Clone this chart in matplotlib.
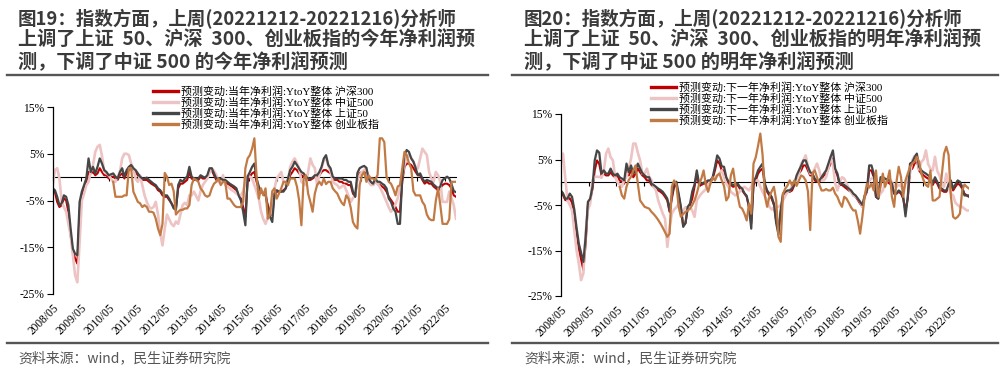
import numpy as np
import matplotlib
matplotlib.use('Agg')
import matplotlib.pyplot as plt
from matplotlib.lines import Line2D

plt.rcParams['font.family'] = ['Liberation Serif', 'Noto Sans CJK SC']
plt.rcParams['axes.unicode_minus'] = False

nan = np.nan

# ---- left chart: current-year net profit forecast change (%) ----
hs300_cur = [
    -2.8, -3.2, -5.3, -6.4, -6.0, -4.5, -5.0, -7.4, -12.4, -16.0, -17.4, -18.5,
    -7.4, -3.9, -2.4, -1.0, 1.1, 0.8, 1.1, 0.4, 0.8, 1.9, 1.1, 0.4,
    0.4, -0.3, 0.1, 0.1, -0.3, -0.6, 0.4, 0.8, -0.3, 0.8, 1.5, 1.9,
    1.5, 1.1, 0.4, -0.3, -0.6, -0.6, -0.6, -1.0, -1.4, -1.7, -2.0, -2.8,
    -3.1, -3.9, -4.2, -4.2, -4.9, -5.6, -6.4, -6.7, -2.4, -1.4, -1.4, -1.0,
    -0.6, 1.1, -0.3, -0.6, -0.6, -0.6, 0.1, -0.3, -0.3, 0.1, 1.5, 1.5,
    0.4, -0.6, -0.6, -0.6, -1.0, -1.0, -1.4, -1.7, -2.0, -2.4, -2.8, -3.9,
    -4.6, -6.4, -8.5, -1.0, 0.1, 0.8, 1.1, -1.0, -2.4, -3.1, -3.5, -3.9,
    -6.0, -7.4, -8.1, -3.9, -3.1, -3.1, -3.1, -2.8, -2.4, -1.0, 0.4, 1.1,
    1.9, 1.5, 0.8, 0.4, 0.1, -0.3, -0.6, -0.6, -0.3, 0.1, 0.1, 0.4,
    1.1, 1.5, 1.5, 1.1, 0.8, -0.3, -0.6, -0.6, -1.0, -1.0, -1.4, -1.4,
    -1.7, -1.7, -3.5, -4.2, -0.3, 0.8, 1.1, 1.1, 0.8, -1.0, -1.4, -1.7,
    -1.0, -1.4, -1.7, -2.0, -2.4, -3.1, -4.2, -4.9, -5.6, -6.4, -7.4, -7.4,
    -1.0, 2.2, 2.9, 2.9, 2.6, 1.9, 1.1, 0.4, 0.4, -0.6, -1.4, -1.0,
    -1.4, -1.4, -2.0, -2.4, -2.8, -2.4, -1.7, -1.4, -1.4, -1.7, -2.4, -3.9,
    -4.2]
zz500_cur = [
    -1.7, 1.5, 1.9, -0.3, -5.3, -6.4, -7.4, -10.0, -12.4, -16.7, -21.0, -22.5,
    -14.0, -5.0, -3.5, -1.7, -1.0, 1.1, 2.6, 5.4, 6.5, 6.9, 4.5, 1.1,
    0.8, 0.4, -0.3, -1.0, -1.0, 0.1, 1.1, 4.0, 5.0, 5.0, 4.7, 2.9,
    1.9, -0.3, -1.0, 0.4, -1.7, -3.9, -5.3, -6.4, -6.7, -6.4, -5.3, -8.0,
    -12.0, -14.6, -11.0, -8.0, -9.0, -10.0, -10.5, -9.5, -10.0, -8.0, -6.0, -5.5,
    -6.0, -3.9, -3.9, -3.1, -4.0, -5.0, -3.0, -1.7, -1.0, -0.3, 1.0, 1.9,
    1.3, 0.5, -1.0, -1.4, 0.4, -1.7, -2.0, -2.4, -2.8, -3.1, -3.5, -3.9,
    -3.9, -3.0, -1.0, 0.4, 0.1, -0.3, -1.7, -3.1, -4.6, -7.4, -9.0, -10.0,
    -8.6, -8.0, -7.4, -2.4, -0.3, 0.4, 1.1, -1.0, -1.7, -1.0, 2.2, 3.3,
    4.0, 3.0, 1.9, -1.0, -1.4, -1.7, 1.1, 4.0, 2.6, 1.9, -1.7, 0.4,
    2.0, 3.6, 4.0, 2.5, 1.1, -1.0, -1.4, -1.7, -2.4, -2.0, -1.7, -2.8,
    -4.0, -5.3, -4.5, -3.9, -0.3, 0.4, 1.1, 1.5, 1.9, -1.0, -1.7, -1.7,
    -1.0, -1.4, -2.1, -3.1, -4.2, -5.3, -6.5, -7.4, -6.7, -5.8, -4.5, -2.4,
    0.4, 2.6, 4.0, 5.0, 4.2, 3.3, 2.2, 1.9, 4.0, 6.1, 5.4, 4.7,
    1.1, -0.3, -1.0, 1.1, 0.4, -1.0, -5.3, -5.3, -5.3, -3.1, -4.5, -6.0,
    -8.9]
sz50_cur = [
    -2.4, -2.8, -4.2, -6.0, -5.6, -3.9, -4.2, -6.0, -11.0, -15.3, -16.4, -16.7,
    -5.3, -3.1, -1.7, -0.3, 4.0, 1.1, 2.2, 0.8, 2.2, 4.0, 2.9, 1.5,
    1.1, 0.4, 0.6, 0.8, 0.1, -0.3, 1.1, 1.9, 0.1, 1.5, 2.2, 2.6,
    1.9, 1.5, 0.8, 0.1, -0.3, -0.3, -0.1, -0.6, -1.0, -1.4, -1.7, -2.4,
    -2.8, -3.5, -3.9, -3.9, -4.6, -5.6, -6.7, -7.0, -1.7, -0.6, -1.0, -0.3,
    0.1, 2.2, 0.1, -0.3, -0.3, -0.3, 0.4, 0.1, -0.1, 0.4, 1.9, 1.9,
    0.8, -0.3, -0.3, -0.3, -0.6, -0.6, -1.0, -1.4, -1.7, -2.0, -2.4, -3.9,
    -5.0, -7.4, -10.3, 0.1, 1.1, 2.2, 2.9, -0.3, -2.0, -3.1, -3.5, -3.5,
    -6.7, -8.5, -9.6, -3.5, -2.8, -3.1, -3.1, -3.1, -2.4, -0.3, 1.5, 2.2,
    3.3, 2.6, 1.8, 1.1, 0.8, 0.1, -0.3, -0.3, -0.1, 0.4, 0.4, 1.1,
    2.2, 4.0, 4.7, 2.6, 1.9, 0.1, -0.3, -0.3, -0.3, -0.3, -0.6, -0.6,
    -1.0, -1.0, -3.1, -4.2, 0.9, 1.9, 2.2, 2.4, 2.0, -0.3, -1.0, -1.4,
    -0.3, -1.0, -1.0, -1.4, -1.7, -2.4, -4.6, -5.3, -6.7, -7.4, -10.0, -10.0,
    -0.3, 4.7, 5.8, 5.4, 4.0, 3.3, 1.9, 0.4, 0.8, -0.3, -1.0, -0.6,
    -0.8, -1.0, -1.6, -2.0, -2.4, -2.0, -0.6, -0.3, 0.1, -0.3, -1.5, -3.0,
    -3.2]
cyb_cur = [nan] * 27 + [
    -1.0, -4.2, -4.2, -4.2, -4.2, -3.9, -3.9, 1.9, 1.9,
    -3.1, -4.2, -5.3, -5.6, -6.4, -6.0, -6.4, -7.4, -7.4, -7.6, -8.9, -11.0,
    -12.4, -10.0, 0.9, 0.1, -1.7, -1.4, -3.0, -8.0, -7.4, -7.0, -7.0, -6.7,
    -6.7, -6.0, -1.7, -0.3, -0.6, -1.0, -2.4, -3.0, -3.9, -4.2, -3.9, -2.4,
    -1.4, -1.0, -0.3, -1.7, -1.0, -1.0, -4.6, -4.6, -5.3, -6.0, -6.4, -6.4,
    -6.4, -5.3, 1.9, 4.0, 4.7, 6.1, 8.3, 0.1, -4.6, -2.4, -3.9, -2.4,
    -8.9, -8.0, -3.0, -2.4, -4.6, -3.5, -2.4, -1.0, -1.0, -1.7, -0.3, -0.3,
    -0.3, -2.0, -5.0, -10.3, -0.3, 0.4, -3.5, -5.3, -7.4, -3.5, -1.7, -1.0,
    -1.7, -0.3, -1.5, -1.0, -1.0, -2.4, -3.0, -3.5, -4.6, -5.5, -6.0, -3.9,
    -4.6, -6.5, -9.6, -10.5, -11.0, -1.7, 0.4, 1.1, -1.0, 0.4, -0.3, -0.3,
    -0.6, 0.5, 8.3, 8.3, 7.5, 0.1, -1.0, -1.4, -2.5, -3.9, -2.0, -1.7,
    1.9, 5.4, 4.7, 3.0, 1.9, -3.0, -3.9, -3.9, -3.9, -5.3, -6.0, -8.0,
    -8.9, -9.2, -9.2, -5.0, -2.4, -6.0, -10.0, -10.0, -10.0, -9.0, -1.0, -1.0,
    -1.0]

# ---- right chart: next-year net profit forecast change (%) ----
hs300_next = [
    -2.0, -2.8, -3.9, -4.0, -3.5, -4.5, -7.0, -11.0, -14.5, -17.0, -19.3, -13.5,
    -5.0, -4.0, -1.5, 2.6, 4.8, 4.0, 1.5, 1.9, 1.5, 1.5, 2.2, 1.5,
    1.1, 1.5, 0.4, 0.1, -0.3, 3.0, 1.5, 2.6, 1.1, 1.9, 3.0, 2.2,
    1.5, 1.1, 0.4, 0.4, -0.6, -1.0, -1.4, -1.8, -2.1, -2.5, -3.2, -4.0,
    -6.5, -3.6, -1.0, -0.6, -2.9, -5.8, -9.5, -9.0, -5.8, -5.0, -3.6, -1.0,
    1.9, -0.6, -0.6, -0.3, -0.3, 0.1, 0.1, 0.8, 2.6, 4.8, 4.1, 2.6,
    2.6, 0.4, -0.3, -0.6, -1.0, -0.8, -0.6, -1.4, -1.8, -2.5, -3.2, -5.4,
    -9.0, -0.6, 0.4, 1.9, 2.6, 3.0, -0.6, -2.1, -2.9, -3.6, -5.0, -8.5,
    -10.5, -6.5, -2.9, -2.5, -2.1, -2.1, -1.8, -0.6, 1.1, 1.9, 2.6, 3.7,
    3.7, 2.6, 1.5, 1.5, 0.4, 0.1, 0.1, 0.8, 1.5, 1.9, 3.0, 4.1,
    5.2, 2.6, 1.5, -0.6, -0.6, -1.0, -1.4, -1.8, -2.1, -2.9, -3.2, -3.9,
    -4.7, -5.4, -3.2, -2.1, 2.6, 2.6, 1.1, -3.2, -3.6, 0.4, 0.4, 0.1,
    0.1, -0.3, -0.6, -2.5, -2.5, -2.1, -2.5, -3.6, -6.2, -3.6, 2.6, 3.0,
    4.1, 4.8, 2.6, 1.9, 1.5, 1.1, 0.8, 0.4, -0.6, 0.4, -0.3, -1.4,
    -1.8, -2.1, -2.1, -1.0, -0.3, -1.8, -1.0, -0.3, -0.6, -1.4, -2.5, -2.9,
    -2.9]
zz500_next = [
    4.1, 6.3, 1.0, -4.0, -5.0, -6.2, -10.5, -15.0, -17.9, -21.5, -20.0, -11.0,
    -6.0, -4.7, 0.4, 1.2, 1.2, 1.2, 1.0, 2.5, 6.3, 7.4, 5.5, 4.8,
    1.2, 0.0, -0.5, -1.0, 0.5, 1.2, 3.0, 5.2, 8.5, 8.5, 6.5, 4.8,
    1.9, 1.9, 3.0, 1.2, 0.5, -1.0, -1.8, -4.0, -5.5, -6.9, -8.0, -14.2,
    -10.0, -6.9, -6.0, -5.5, -4.7, -6.9, -6.2, -5.5, -5.5, -5.5, -6.2, -7.6,
    -4.0, -3.2, -2.5, -2.0, -1.5, -0.5, 0.4, 1.1, 1.1, 1.5, 1.9, 2.6,
    1.1, -0.3, -1.0, -2.1, -2.5, -2.9, -2.6, -2.0, -1.4, -1.0, -1.4, -1.8,
    -1.0, 0.4, 0.4, 0.4, -1.0, -2.1, -3.0, -4.0, -5.4, -6.0, -5.5, -5.4,
    -5.4, -5.0, -4.0, -3.0, -2.1, -1.8, -0.7, -0.3, 0.8, 1.9, 4.0, 4.8,
    5.9, 3.5, 1.9, 1.9, 3.0, 4.1, 2.6, 0.4, 0.4, 1.1, 3.0, 5.6,
    4.0, -0.3, -1.8, 0.0, 1.1, 0.8, -0.3, -1.4, -2.1, -2.9, -3.2, -3.6,
    -4.3, -5.4, -3.0, -1.5, 0.4, 0.8, 1.1, -1.0, -3.2, -2.5, -1.8, -0.3,
    0.4, 0.8, 0.0, -0.8, -1.0, -0.6, -0.8, -1.8, -0.3, 0.5, 1.9, 4.8,
    5.8, 5.5, 2.8, 4.5, 5.0, 7.0, 4.0, 3.0, 2.6, 5.6, 2.5, 1.5,
    -0.3, -1.0, 1.9, -1.0, -2.5, -2.9, -4.5, -5.0, -5.4, -5.4, -5.8, -6.2,
    -6.2]
sz50_next = [
    -1.8, -2.4, -3.6, -3.6, -2.5, -3.2, -6.0, -10.0, -13.5, -15.5, -17.5, -12.0,
    -4.3, -3.6, -1.0, 4.8, 7.0, 6.5, 1.9, 2.6, 1.9, 1.9, 3.0, 1.9,
    1.5, 1.9, 1.1, 0.8, 0.4, 4.1, 2.2, 3.7, 1.9, 2.6, 4.1, 3.0,
    2.0, 1.5, 1.1, 1.1, -0.3, -0.6, -1.0, -1.4, -1.7, -2.1, -2.8, -3.6,
    -6.2, -3.0, -0.3, 0.1, -2.5, -5.4, -9.8, -9.0, -5.4, -4.7, -2.0, -0.5,
    2.6, -0.3, -0.3, -0.1, 0.1, 0.4, 0.4, 1.1, 3.4, 5.9, 5.2, 3.5,
    3.4, 1.1, 0.1, -0.3, -0.6, -0.4, -0.3, -1.0, -1.4, -2.4, -3.0, -5.4,
    -10.2, 0.0, 1.1, 2.6, 3.4, 4.1, -0.3, -1.8, -2.5, -3.2, -4.7, -9.0,
    -11.5, -6.0, -2.5, -2.1, -1.8, -1.8, -1.4, -0.3, 1.5, 2.6, 3.6, 4.8,
    4.8, 3.4, 2.2, 1.9, 0.8, 0.4, 0.4, 1.1, 1.9, 2.6, 4.1, 5.6,
    7.0, 3.0, 1.9, -0.3, -0.3, -0.6, -1.0, -1.4, -1.8, -2.5, -2.9, -3.6,
    -4.3, -5.0, -3.0, -1.8, 3.7, 3.7, 1.9, -3.2, -3.6, 1.1, 1.1, 0.8,
    0.6, 0.4, -0.3, -2.5, -2.5, -1.8, -2.2, -3.2, -7.5, -3.2, 4.1, 4.4,
    5.5, 6.3, 3.4, 2.6, 2.2, 1.9, 1.5, 1.1, -0.3, 1.1, 0.1, -1.0,
    -1.4, -1.8, -1.8, -0.5, 0.4, -1.4, -0.5, 0.4, 0.1, -1.0, -2.9, -2.9,
    -3.2]
cyb_next = [nan] * 26 + [
    -1.0, -2.9, -3.6, -1.0, 0.5, 1.2, 2.6, 3.7, -0.3, -4.0,
    -4.7, -5.4, -5.6, -5.8, -6.5, -7.0, -7.6, -8.3, -9.1, -10.0, -11.0, -12.0,
    -11.3, -1.0, 0.4, -0.5, -5.4, -7.6, -7.0, -6.5, -6.2, -5.8, -5.0, -4.0,
    -2.5, -0.5, 0.8, 2.6, -0.6, -2.1, -0.3, 1.1, 0.4, 1.5, 1.9, 0.4,
    -0.8, -4.0, -3.2, 1.5, 3.0, -0.5, -3.0, -5.4, -5.8, -6.9, -8.4, -4.7,
    -6.9, 4.1, 5.5, 8.0, 10.7, 6.0, -3.0, -5.4, -3.2, -2.0, -1.0, -4.0,
    -12.0, -13.1, -2.5, -1.4, -0.7, 0.4, -0.7, 0.4, -0.8, 0.4, 1.5, 1.2,
    0.4, -2.0, -10.5, 2.0, 2.6, 1.1, -0.5, -1.8, -1.8, -1.5, -1.8, -1.8,
    -1.2, -2.5, -3.2, -4.5, -5.4, -3.2, -3.6, -4.5, -5.5, -6.2, -6.2, -8.5,
    -11.3, -7.5, -3.0, -0.3, -1.2, -0.3, -1.8, 2.6, -3.2, -1.0, 1.9, -1.0,
    0.4, 2.6, -3.2, -5.4, 0.0, 3.4, 1.2, -3.2, 0.4, 1.9, 3.4, 4.1,
    4.5, 5.6, 4.5, 1.9, 0.4, -0.6, -1.0, 2.6, -4.0, -4.0, -3.6, -3.2,
    1.5, 6.3, 7.8, 6.0, -3.0, -7.6, -8.0, -7.6, -6.9, -1.8, -0.5, -1.0,
    -1.4]

tick_labels = ['%d/05' % y for y in range(2008, 2023)]

cur_names = ['预测变动:当年净利润:YtoY整体 沪深300', '预测变动:当年净利润:YtoY整体 中证500',
             '预测变动:当年净利润:YtoY整体 上证50', '预测变动:当年净利润:YtoY整体 创业板指']
next_names = ['预测变动:下一年净利润:YtoY整体 沪深300', '预测变动:下一年净利润:YtoY整体 中证500',
              '预测变动:下一年净利润:YtoY整体 上证50', '预测变动:下一年净利润:YtoY整体 创业板指']

colors = ['#C00000', '#EDC3C3', '#464646', '#C27A45']
widths = [1.5, 1.9, 1.6, 1.6]

title_left = ['图19：指数方面，上周(20221212-20221216)分析师',
              '上调了上证  50、沪深  300、创业板指的今年净利润预',
              '测，下调了中证 500 的今年净利润预测']
title_right = ['图20：指数方面，上周(20221212-20221216)分析师',
               '上调了上证  50、沪深  300、创业板指的明年净利润预',
               '测，下调了中证 500 的明年净利润预测']
source = '资料来源：wind，民生证券研究院'

W, H = 1008, 372
fig = plt.figure(figsize=(W / 100, H / 100), dpi=100)


def px(x, y):
    return x / W, 1 - y / H


def draw_panel(rect, span, series, names, leg_xy):
    ax = fig.add_axes(rect)
    x = np.linspace(0, span, len(series[0]))
    for vals, c, lw, name in zip(series, colors, widths, names):
        ax.plot(x, vals, color=c, lw=lw, label=name, solid_joinstyle='round')
    ax.set_xlim(0, span)
    ax.set_ylim(-25, 15)
    ax.set_yticks([15, 5, -5, -15, -25])
    ax.set_yticklabels(['15%', '5%', '-5%', '-15%', '-25%'])
    ax.set_xticks(np.arange(15))
    ax.set_xticklabels(tick_labels, rotation=45, ha='right', va='top',
                       rotation_mode='anchor', fontsize=8.3)
    ax.tick_params(axis='x', length=0, pad=6)
    ax.tick_params(axis='y', direction='out', length=4, width=0.8, labelsize=8.3, pad=2)
    for s in ['top', 'right', 'bottom']:
        ax.spines[s].set_visible(False)
    ax.spines['left'].set_linewidth(0.9)
    zero = ax.secondary_xaxis(25 / 40)
    zero.set_xticks(np.arange(15))
    zero.set_xticklabels([])
    zero.tick_params(direction='in', length=3, width=0.8)
    zero.spines['bottom'].set_linewidth(1.0)
    ax.patch.set_alpha(0)
    leg = fig.legend(*ax.get_legend_handles_labels(), loc='upper left',
                     bbox_to_anchor=px(*leg_xy), frameon=False, fontsize=7.9,
                     handlelength=2.3, handletextpad=0.25, labelspacing=0.05,
                     borderpad=0, borderaxespad=0)
    for h in leg.get_lines():
        h.set_linewidth(2.4)
    return ax


draw_panel([52.7 / W, 78 / H, 403.3 / W, 187 / H], 14.4,
           [hs300_cur, zz500_cur, sz50_cur, cyb_cur], cur_names, (153, 86))
draw_panel([560.7 / W, 76 / H, 408.3 / W, 182 / H], 14.65,
           [hs300_next, zz500_next, sz50_next, cyb_next], next_names, (651, 82))

for x0, x1, tx, lines in [(7, 488, 18, title_left), (512, 998, 524, title_right)]:
    for i, t in enumerate(lines):
        fs = 13.3 if i == 0 else 13.8
        fig.text(*px(tx, 19 + 21.5 * i), t, family=['Noto Sans CJK SC'], weight='bold',
                 fontsize=fs, color='#3a3a3a', va='center', ha='left')
    fig.add_artist(Line2D([x0 / W, x1 / W], [1 - 75 / H] * 2, color='#555555', lw=1.7))
    fig.add_artist(Line2D([x0 / W, x1 / W], [1 - 343 / H] * 2, color='#555555', lw=1.7))
    fig.text(*px(tx, 358), source, family=['Noto Sans CJK SC'], fontsize=10,
             color='#555555', va='center', ha='left')

fig.savefig('out.png', dpi=100)
